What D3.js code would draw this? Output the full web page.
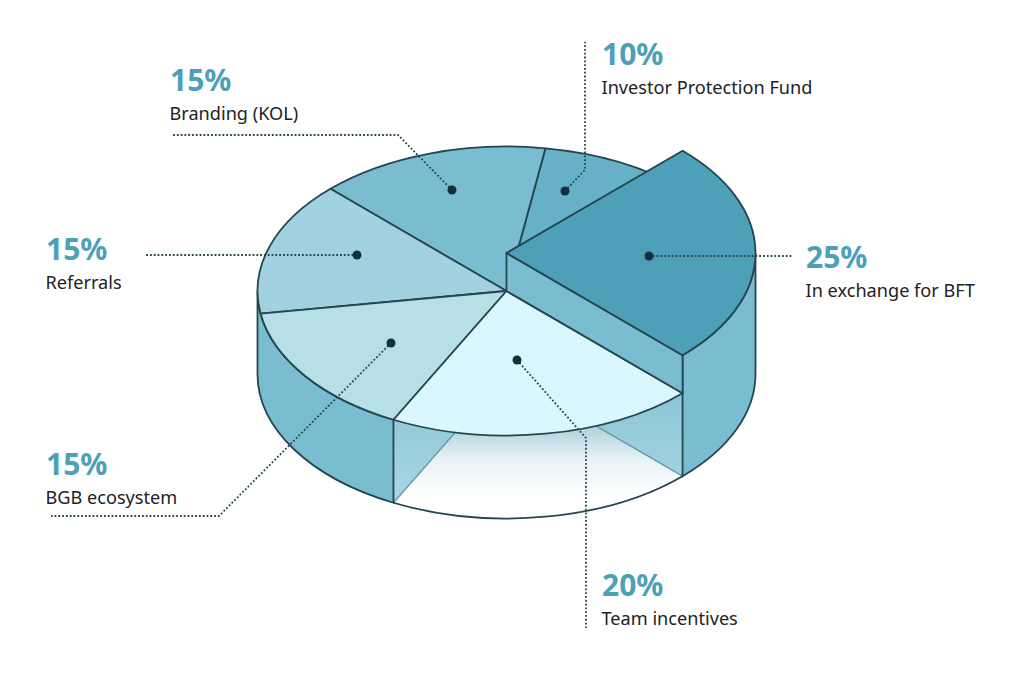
<!DOCTYPE html>
<html>
<head>
<meta charset="utf-8">
<script src="https://cdn.jsdelivr.net/npm/d3@7"></script>
<style>
  html, body { margin: 0; background: #fff; }
  text { font-family: "Noto Sans", sans-serif; }
</style>
</head>
<body>
<div id="chart"></div>
<script>
const categories = ["In exchange for BFT", "Team incentives", "BGB ecosystem", "Referrals", "Branding (KOL)", "Investor Protection Fund"];
const shares = [25, 20, 15, 15, 15, 10];

const width = 1024, height = 676;
const ink = "#24464f";
const lineWidth = 1.8;
const sliceColors = ["#4e9fb8", "#dbf7fe", "#b7dfe8", "#a2d2e0", "#7abdd0", "#66b1c7"];
const wallColor = "#7abdd0";

// ellipse of the top face and the two offsets of the 3D look
const x = d3.scaleLinear().domain([-1, 1]).range([257.5, 755.5]);
const y = d3.scaleLinear().domain([-1, 1]).range([146.5, 435.5]);
const rx = (x(1) - x(-1)) / 2, ry = (y(1) - y(-1)) / 2;
const depth = 83, lift = 38;

// label block and leader line for each slice, the first point is the dot
const callouts = [
  { tx: 806, ty: 267.5, pts: [[649, 256], [793, 256]] },
  { tx: 602, ty: 595.5, pts: [[517, 360], [586, 438], [586, 628]] },
  { tx: 46, ty: 474.5, pts: [[391, 343], [219, 516], [51, 516]] },
  { tx: 46, ty: 259.5, pts: [[357, 255], [145, 255]] },
  { tx: 170, ty: 90.5, pts: [[452, 190], [398, 135], [172, 135]] },
  { tx: 602, ty: 64.5, pts: [[565, 191], [585, 170], [585, 42]] }
];

const rad = d => d * Math.PI / 180;
const pie = d3.pie().sort(null).startAngle(rad(45)).endAngle(rad(405));
const slices = pie(shares);

const px = a => x(Math.sin(a));
const py = (a, dy = 0) => y(-Math.cos(a)) + dy;
const arcTo = (a, dy, sweep) => `A${rx},${ry} 0 0 ${sweep} ${px(a)},${py(a, dy)}`;

// flat sector of the pie at vertical offset dy
const sector = (s, dy = 0) =>
  `M${x(0)},${y(0) + dy}L${px(s.startAngle)},${py(s.startAngle, dy)}` +
  arcTo(s.endAngle, dy, 1) + "Z";

// outer wall between two angles, from offset top down to offset bottom
const wall = (a0, a1, top, bottom) =>
  `M${px(a0)},${py(a0, top)}` + arcTo(a1, top, 1) +
  `L${px(a1)},${py(a1, bottom)}` + arcTo(a0, bottom, 0) + "Z";

// flat radial face going down from the centre to the rim
const radial = (a, top, bottom) =>
  `M${x(0)},${y(0) + top}L${px(a)},${py(a, top)}L${px(a)},${py(a, bottom)}L${x(0)},${y(0) + bottom}Z`;

const svg = d3.select("#chart").append("svg")
  .attr("width", width)
  .attr("height", height)
  .style("display", "block");

const defs = svg.append("defs");
const addGradient = (id, x1, x2, y1, y2, stops) => {
  const g = defs.append("linearGradient")
    .attr("id", id)
    .attr("gradientUnits", "userSpaceOnUse")
    .attr("x1", x1).attr("x2", x2).attr("y1", y1).attr("y2", y2);
  stops.forEach(s => g.append("stop").attr("offset", s[0]).attr("stop-color", s[1]));
};
addGradient("floorFill", 0, 0, 428, 498, [[0, "#b0d3dc"], [0.45, "#e8f2f5"], [1, "#ffffff"]]);
addGradient("innerFill", 0, 0, 392, 500, [[0, "#8cc5d5"], [1, "#a8d7e3"]]);

const team = slices[1], exchange = slices[0];

// opened up team slice: floor first, inner faces on top of it
svg.append("path")
  .attr("d", sector(team, depth))
  .attr("fill", "url(#floorFill)");
[team.startAngle, team.endAngle].forEach(a => {
  svg.append("path")
    .attr("d", radial(a, 0, depth))
    .attr("fill", "url(#innerFill)");
  svg.append("line")
    .attr("x1", x(0)).attr("y1", y(0) + depth)
    .attr("x2", px(a)).attr("y2", py(a, depth))
    .attr("stroke", "#6c9aa6")
    .attr("stroke-width", 1.5);
});
svg.append("path")
  .attr("d", `M${px(team.startAngle)},${py(team.startAngle, depth)}` + arcTo(team.endAngle, depth, 1))
  .attr("fill", "none")
  .attr("stroke", ink)
  .attr("stroke-width", lineWidth);

// outer walls on both sides of it
svg.append("path")
  .attr("d", wall(team.endAngle, rad(270), 0, depth))
  .attr("fill", wallColor)
  .attr("stroke", ink)
  .attr("stroke-width", lineWidth);
svg.append("path")
  .attr("d", wall(rad(90), team.startAngle, -lift, depth))
  .attr("fill", wallColor)
  .attr("stroke", ink)
  .attr("stroke-width", lineWidth);

// top faces, team last so it covers the inner faces
[5, 4, 3, 2, 1].forEach(i => {
  svg.append("path")
    .attr("d", sector(slices[i]))
    .attr("fill", sliceColors[i])
    .attr("stroke", ink)
    .attr("stroke-width", lineWidth)
    .attr("stroke-linejoin", "round");
});

// raised slice
svg.append("path")
  .attr("d", radial(exchange.endAngle, -lift, 0))
  .attr("fill", wallColor)
  .attr("stroke", ink)
  .attr("stroke-width", lineWidth);
svg.append("path")
  .attr("d", sector(exchange, -lift))
  .attr("fill", sliceColors[0])
  .attr("stroke", ink)
  .attr("stroke-width", lineWidth)
  .attr("stroke-linejoin", "round");

// leaders, dots and labels
const leader = d3.line();
callouts.forEach((c, i) => {
  svg.append("path")
    .attr("d", leader(c.pts))
    .attr("fill", "none")
    .attr("stroke", ink)
    .attr("stroke-width", 1.8)
    .attr("stroke-dasharray", "1.8 2");
  svg.append("circle")
    .attr("cx", c.pts[0][0])
    .attr("cy", c.pts[0][1])
    .attr("r", 4.5)
    .attr("fill", "#11323d");
  svg.append("text")
    .attr("x", c.tx)
    .attr("y", c.ty)
    .attr("fill", "#4e9fb8")
    .attr("font-size", 30)
    .attr("font-weight", 700)
    .text(shares[i] + "%");
  svg.append("text")
    .attr("x", c.tx - 0.5)
    .attr("y", c.ty + 29.5)
    .attr("fill", "#222222")
    .attr("font-size", 18.15)
    .text(categories[i]);
});
</script>
</body>
</html>
